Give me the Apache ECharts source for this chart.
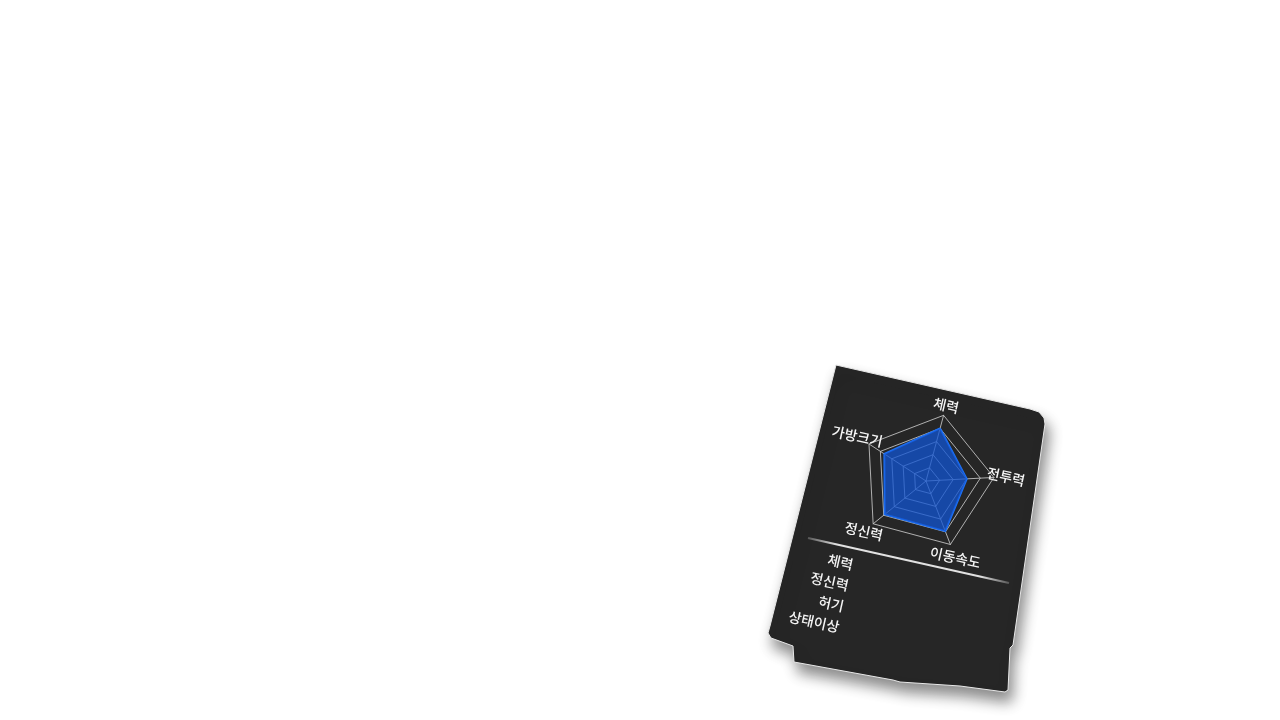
<!DOCTYPE html>
<html>
<head>
<meta charset="utf-8">
<script src="https://cdn.jsdelivr.net/npm/echarts@6/dist/echarts.min.js"></script>
<style>
html,body{margin:0;padding:0;background:#fff;}
#main{width:1280px;height:720px;}
</style>
</head>
<body>
<div id="main"></div>
<script>
// Data
const indicatorNames = ['체력', '가방크기', '정신력', '이동속도', '전투력'];
const indicatorMax = [100, 100, 100, 100, 100];
const statValues = [80, 73, 78, 79, 60];
const statusLabels = ['체력', '정신력', '허기', '상태이상'];

const FONT = '"Noto Sans CJK KR", "Noto Sans", sans-serif';
const TILT = -12.5; // degrees (clockwise tilt of the card)
const RAD = Math.PI / 180;
const RADAR_CENTER = [926, 481];
const RADAR_RADIUS = 68;
const RADAR_START = 75;

const chart = echarts.init(document.getElementById('main'));

const cardPoints = [
  [836, 365], [1030, 409], [1039, 412], [1044, 418], [1045, 424], [1013, 645], [1010, 648],
  [1008, 690], [1005, 692], [960, 686], [900, 682], [893, 680], [827, 668],
  [794, 662], [793, 646], [771, 638], [768, 633], [770, 626]
];

// status labels below the separator, right-aligned in the tilted frame
const statusTexts = statusLabels.map((t, i) => ({
  type: 'text',
  z: 60,
  x: 853 + i * 21.3 * Math.sin(TILT * RAD),
  y: 565 + i * 21.3 * Math.cos(TILT * RAD),
  rotation: TILT * RAD,
  style: {
    text: t,
    fill: '#f4f4f4',
    font: '500 14px ' + FONT,
    textAlign: 'right',
    textVerticalAlign: 'middle'
  }
}));

// radar indicator names, placed along each radar axis (counter-clockwise from startAngle)
const nameTexts = indicatorNames.map((n, i) => {
  const a = (RADAR_START + i * 360 / indicatorNames.length) * RAD;
  const d = RADAR_RADIUS + 6 + 2 * n.length;
  return {
    type: 'text',
    z: 60,
    x: RADAR_CENTER[0] + d * Math.cos(a),
    y: RADAR_CENTER[1] - d * Math.sin(a),
    rotation: TILT * RAD,
    style: {
      text: n,
      fill: '#f5f5f5',
      font: '500 14px ' + FONT,
      textAlign: 'center',
      textVerticalAlign: 'middle'
    }
  };
});

chart.setOption({
  backgroundColor: '#ffffff',
  graphic: [
    {
      type: 'polygon',
      z: -10,
      shape: { points: cardPoints },
      style: {
        fill: '#262626',
        stroke: '#e8e8e8',
        lineWidth: 1,
        shadowBlur: 14,
        shadowOffsetX: 4,
        shadowOffsetY: 10,
        shadowColor: 'rgba(0,0,0,0.45)'
      }
    },
    {
      type: 'line',
      z: 50,
      shape: { x1: 808, y1: 538, x2: 1009, y2: 583 },
      style: {
        stroke: new echarts.graphic.LinearGradient(0, 0, 1, 0, [
          { offset: 0, color: 'rgba(230,230,230,0.2)' },
          { offset: 0.15, color: 'rgba(235,235,235,0.95)' },
          { offset: 0.85, color: 'rgba(235,235,235,0.95)' },
          { offset: 1, color: 'rgba(230,230,230,0.2)' }
        ]),
        lineWidth: 2.2
      }
    }
  ].concat(statusTexts, nameTexts),
  radar: {
    center: RADAR_CENTER,
    radius: RADAR_RADIUS,
    startAngle: RADAR_START,
    splitNumber: 5,
    shape: 'polygon',
    axisName: { show: false },
    indicator: indicatorNames.map((n, i) => ({ name: n, max: indicatorMax[i] })),
    splitArea: { show: false },
    splitLine: { lineStyle: { color: 'rgba(200,200,200,0.85)', width: 1 } },
    axisLine: { lineStyle: { color: 'rgba(200,200,200,0.85)', width: 1 } }
  },
  series: [{
    type: 'radar',
    symbol: 'none',
    silent: true,
    lineStyle: { color: '#1f72f5', width: 2 },
    areaStyle: { color: 'rgb(18,84,210)', opacity: 0.75 },
    itemStyle: { color: '#1f72f5' },
    data: [{ value: statValues, name: '능력치' }]
  }]
});
</script>
</body>
</html>
